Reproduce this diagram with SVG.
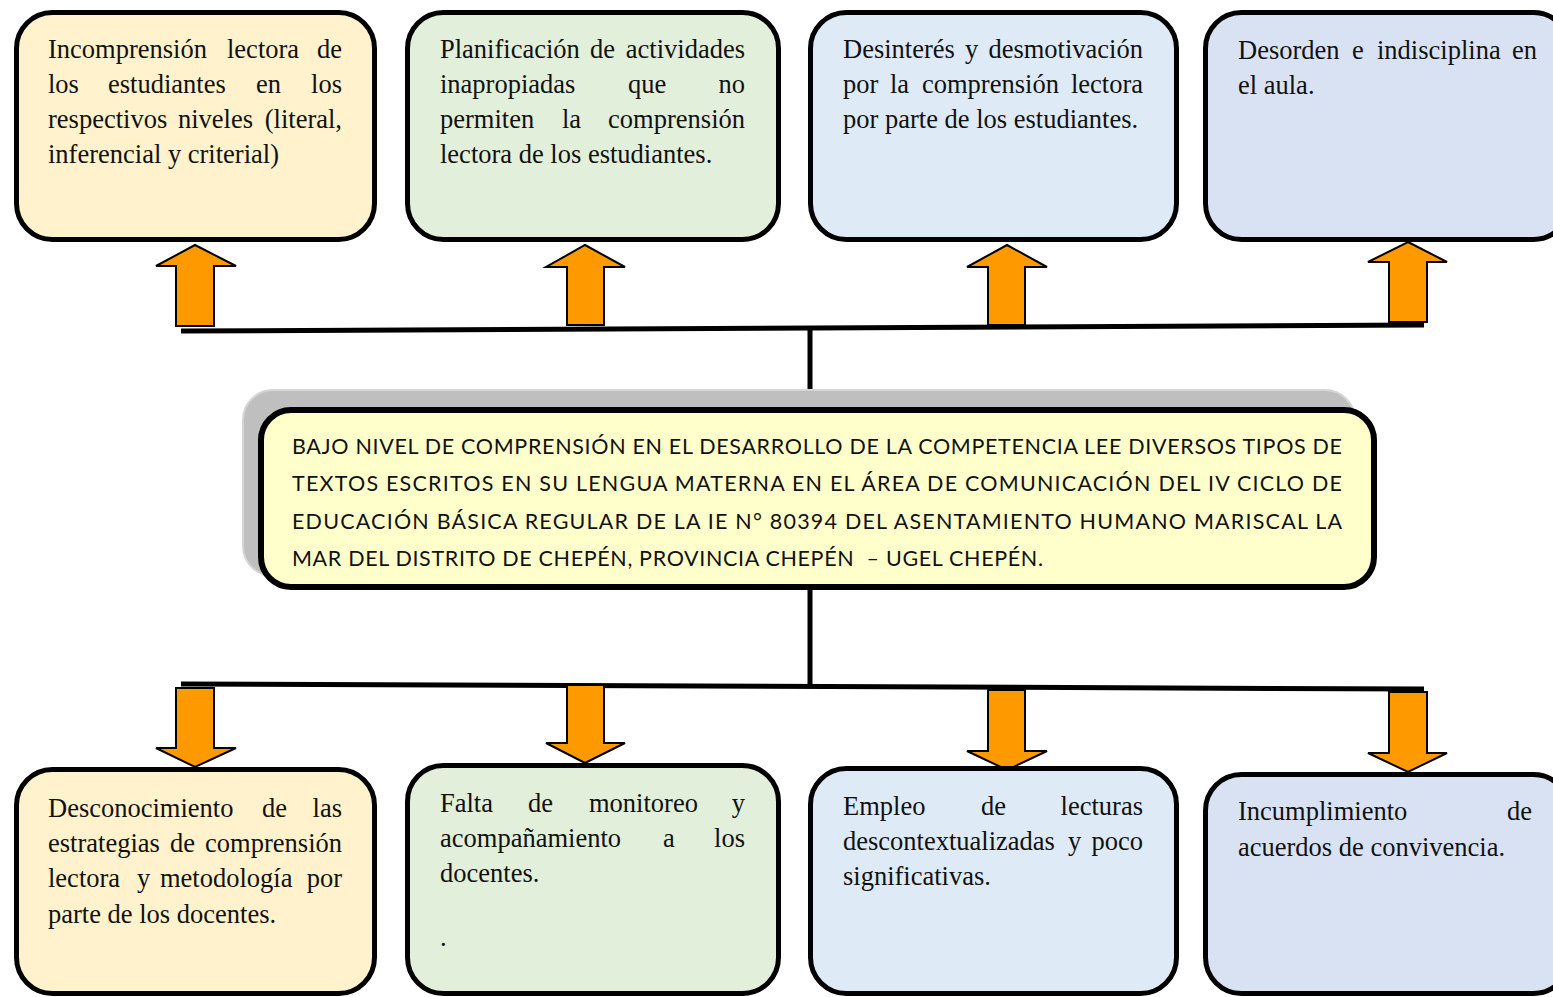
<svg xmlns="http://www.w3.org/2000/svg" width="1553" height="997" viewBox="0 0 1553 997">
<style>
.box{stroke:#000;stroke-width:5}
.c1{fill:#FFF2CC}.c2{fill:#E2EFDA}.c3{fill:#DEEAF6}.c4{fill:#D9E2F3}
.t{font-family:"Liberation Serif","Times New Roman","DejaVu Serif",serif;font-size:26.5px;fill:#111}
.e{text-anchor:end}
.arrow{fill:#FF9900;stroke:#000;stroke-width:2;stroke-linejoin:miter}
.line{stroke:#000;stroke-width:5;fill:none}
.ct{font-family:Lato,"Open Sans","Liberation Sans",sans-serif;font-size:21.5px;fill:#111}
</style>
<rect width="1553" height="997" fill="#fff"/>

<g id="connectors">
<line class="line" x1="181" y1="331" x2="1424" y2="325"/>
<line class="line" x1="810" y1="328" x2="810" y2="410" stroke-width="4.5"/>
<line class="line" x1="810" y1="588" x2="810" y2="686" stroke-width="4.5"/>
<line class="line" x1="181" y1="684" x2="1424" y2="689"/>
<polygon class="arrow" points="195,245 236,266 214,266 214,326 176,326 176,266 156,266"/>
<polygon class="arrow" points="585,245 625,267 604,267 604,325 567,325 567,267 546,267"/>
<polygon class="arrow" points="1007,245 1047,267 1025,267 1025,325 988,325 988,267 967,267"/>
<polygon class="arrow" points="1408,242 1447,262 1427,262 1427,322 1389,322 1389,262 1368,262"/>
<polygon class="arrow" points="176,688 214,688 214,748 236,748 195,767 156,748 176,748"/>
<polygon class="arrow" points="567,685 604,685 604,743 625,743 585,763 546,743 567,743"/>
<polygon class="arrow" points="988,690 1025,690 1025,751 1047,751 1007,770 967,751 988,751"/>
<polygon class="arrow" points="1389,692 1427,692 1427,753 1447,753 1408,772 1368,753 1389,753"/>
</g>

<g id="top1">
<rect class="box c1" x="16.5" y="12.5" width="358" height="227" rx="36"/>
<text class="t" y="58"><tspan x="48">Incomprensión</tspan><tspan x="227">lectora</tspan><tspan class="e" x="342">de</tspan></text>
<text class="t" y="93"><tspan x="48">los</tspan><tspan x="108">estudiantes</tspan><tspan x="256">en</tspan><tspan class="e" x="342">los</tspan></text>
<text class="t" y="128"><tspan x="48">respectivos</tspan><tspan x="178">niveles</tspan><tspan class="e" x="342">(literal,</tspan></text>
<text class="t" x="48" y="163">inferencial y criterial)</text>
</g>

<g id="top2">
<rect class="box c2" x="407.5" y="12.5" width="371" height="227" rx="36"/>
<text class="t" y="58"><tspan x="440">Planificación</tspan><tspan x="590">de</tspan><tspan class="e" x="745">actividades</tspan></text>
<text class="t" y="93"><tspan x="440">inapropiadas</tspan><tspan x="628">que</tspan><tspan class="e" x="745">no</tspan></text>
<text class="t" y="128"><tspan x="440">permiten</tspan><tspan x="562">la</tspan><tspan class="e" x="745">comprensión</tspan></text>
<text class="t" x="440" y="163">lectora de los estudiantes.</text>
</g>

<g id="top3">
<rect class="box c3" x="810.5" y="12.5" width="366" height="227" rx="36"/>
<text class="t" y="58"><tspan x="843">Desinterés</tspan><tspan x="965">y</tspan><tspan class="e" x="1143">desmotivación</tspan></text>
<text class="t" y="93"><tspan x="843">por</tspan><tspan x="890">la</tspan><tspan x="922">comprensión</tspan><tspan class="e" x="1143">lectora</tspan></text>
<text class="t" x="843" y="128">por parte de los estudiantes.</text>
</g>

<g id="top4">
<rect class="box c4" x="1205.5" y="12.5" width="364" height="227" rx="36"/>
<text class="t" y="59"><tspan x="1238">Desorden</tspan><tspan x="1352">e</tspan><tspan x="1377">indisciplina</tspan><tspan class="e" x="1537">en</tspan></text>
<text class="t" x="1238" y="94">el aula.</text>
</g>

<g id="central">
<rect x="243" y="390" width="1112" height="186" rx="30" fill="#BFBFBF" stroke="#D6D6D6" stroke-width="2"/>
<rect x="261" y="410" width="1113" height="177" rx="30" fill="#FFFFCC" stroke="#000" stroke-width="6"/>
<text class="ct" x="292" y="454" textLength="1050" lengthAdjust="spacing">BAJO NIVEL DE COMPRENSIÓN EN EL DESARROLLO DE LA COMPETENCIA LEE DIVERSOS TIPOS DE</text>
<text class="ct" x="292" y="491" textLength="1050" lengthAdjust="spacing">TEXTOS ESCRITOS EN SU LENGUA MATERNA EN EL ÁREA DE COMUNICACIÓN DEL IV CICLO DE</text>
<text class="ct" x="292" y="529" textLength="1050" lengthAdjust="spacing">EDUCACIÓN BÁSICA REGULAR DE LA IE N° 80394 DEL ASENTAMIENTO HUMANO MARISCAL LA</text>
<text class="ct" x="292" y="566" textLength="751" lengthAdjust="spacing" xml:space="preserve">MAR DEL DISTRITO DE CHEPÉN, PROVINCIA CHEPÉN  – UGEL CHEPÉN.</text>
</g>

<g id="bottom1">
<rect class="box c1" x="16.5" y="769.5" width="358" height="224" rx="36"/>
<text class="t" y="817"><tspan x="48">Desconocimiento</tspan><tspan x="262">de</tspan><tspan class="e" x="342">las</tspan></text>
<text class="t" y="852"><tspan x="48">estrategias</tspan><tspan x="170">de</tspan><tspan class="e" x="342">comprensión</tspan></text>
<text class="t" y="887"><tspan x="48">lectora</tspan><tspan x="137">y</tspan><tspan x="160">metodología</tspan><tspan class="e" x="342">por</tspan></text>
<text class="t" x="48" y="923">parte de los docentes.</text>
</g>

<g id="bottom2">
<rect class="box c2" x="407.5" y="765.5" width="371" height="228" rx="36"/>
<text class="t" y="812"><tspan x="440">Falta</tspan><tspan x="528">de</tspan><tspan x="589">monitoreo</tspan><tspan class="e" x="745">y</tspan></text>
<text class="t" y="847"><tspan x="440">acompañamiento</tspan><tspan x="663">a</tspan><tspan class="e" x="745">los</tspan></text>
<text class="t" x="440" y="882">docentes.</text>
<text class="t" x="440" y="946">.</text>
</g>

<g id="bottom3">
<rect class="box c3" x="810.5" y="768.5" width="366" height="225" rx="36"/>
<text class="t" y="815"><tspan x="843">Empleo</tspan><tspan x="981">de</tspan><tspan class="e" x="1143">lecturas</tspan></text>
<text class="t" y="850"><tspan x="843">descontextualizadas</tspan><tspan x="1068">y</tspan><tspan class="e" x="1143">poco</tspan></text>
<text class="t" x="843" y="885">significativas.</text>
</g>

<g id="bottom4">
<rect class="box c4" x="1205.5" y="774.5" width="364" height="219" rx="36"/>
<text class="t" y="820"><tspan x="1238">Incumplimiento</tspan><tspan class="e" x="1532">de</tspan></text>
<text class="t" x="1238" y="856">acuerdos de convivencia.</text>
</g>
</svg>
